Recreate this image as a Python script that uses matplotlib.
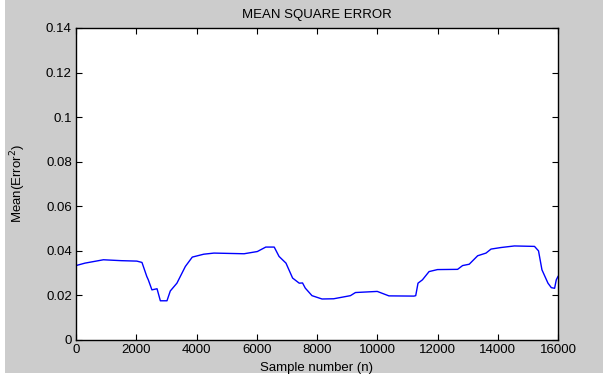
import matplotlib
matplotlib.use('Agg')
import matplotlib.pyplot as plt
from matplotlib.patches import Rectangle

# datos (muestra n, error cuadratico medio)
n = [0, 300, 910, 1500, 2020, 2190, 2350, 2400, 2520, 2690, 2800, 3020, 3130, 3350,
     3630, 3860, 4240, 4580, 5580, 6020, 6300, 6580, 6740, 6970, 7190, 7410, 7520,
     7610, 7833, 8167, 8553, 9110, 9277, 10000, 10387, 11220, 11277, 11353, 11500,
     11720, 12000, 12667, 12833, 13053, 13333, 13610, 13777, 14110, 14553, 15220,
     15353, 15467, 15667, 15777, 15887, 15943, 16000]
mse = [0.0334, 0.0345, 0.0360, 0.0356, 0.0354, 0.0348, 0.0285, 0.0270, 0.0225, 0.0230,
       0.0176, 0.0176, 0.0220, 0.0255, 0.0330, 0.0372, 0.0385, 0.0390, 0.0387, 0.0397,
       0.0417, 0.0417, 0.0375, 0.0345, 0.0278, 0.0255, 0.0256, 0.0233, 0.0199, 0.0184,
       0.0185, 0.0199, 0.0213, 0.0218, 0.0198, 0.0197, 0.0199, 0.0255, 0.0270, 0.0307,
       0.0316, 0.0317, 0.0334, 0.0340, 0.0378, 0.0390, 0.0408, 0.0415, 0.0422, 0.0420,
       0.0400, 0.0315, 0.0255, 0.0235, 0.0232, 0.0270, 0.0285]

xticks = [0, 2000, 4000, 6000, 8000, 10000, 12000, 14000, 16000]
yticks = [0, 0.02, 0.04, 0.06, 0.08, 0.1, 0.12, 0.14]
ytick_labels = ['0', '0.02', '0.04', '0.06', '0.08', '0.1', '0.12', '0.14']

plt.rcParams['font.family'] = ['Liberation Sans', 'DejaVu Sans']

fig = plt.figure(figsize=(6.03, 3.78), dpi=100, facecolor='white')
# fondo gris estilo matlab
fig.patches.append(Rectangle((5/603, 5/378), 598/603, 373/378, transform=fig.transFigure,
                             facecolor='#cccccc', edgecolor='none', zorder=-1))

ax = fig.add_axes([76/603, 1-340/378, 482/603, 312/378])
ax.plot(n, mse, color='#0000ff', linewidth=1.0)

ax.set_xlim(0, 16000)
ax.set_ylim(0, 0.14)
ax.set_xticks(xticks)
ax.set_xticklabels([str(t) for t in xticks])
ax.set_yticks(yticks)
ax.set_yticklabels(ytick_labels)
ax.tick_params(direction='in', top=True, right=True, length=4, width=0.8,
               labelsize=9.5, colors='black', pad=3)
for s in ax.spines.values():
    s.set_linewidth(1.0)

ax.set_title('MEAN SQUARE ERROR', fontsize=9.5, pad=7)
ax.set_xlabel('Sample number (n)', fontsize=9.5, labelpad=4)
ax.set_ylabel('Mean(Error$^2$)', fontsize=9.5, labelpad=13)

plt.savefig('out.png', dpi=100)
